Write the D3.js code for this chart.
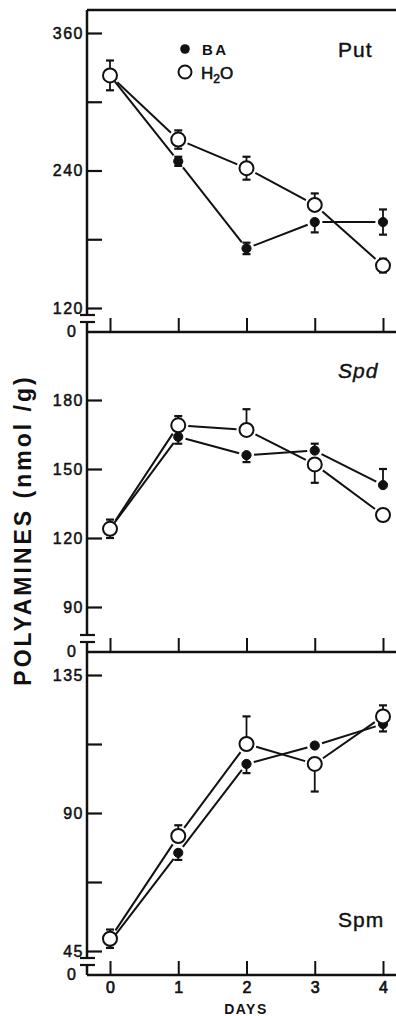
<!DOCTYPE html>
<html>
<head>
<meta charset="utf-8">
<script src="https://cdn.jsdelivr.net/npm/d3@7"></script>
<style>
  body { margin: 0; background: #fff; }
  svg { display: block; }
  text { font-family: "Liberation Sans", Arial, sans-serif; fill: #111; }
</style>
</head>
<body>
<svg id="chart" width="396" height="1016"></svg>
<script>
// data
const days = [0, 1, 2, 3, 4];

// putrescine
const putBA = [323, 248, 172, 195, 195];
const putH2O = [323, 267, 242, 210, 157];
const putBAErr = [[0, 0], [4, 4], [5, 5], [0, 9], [11, 11]];   // [up, down]
const putH2OErr = [[13, 13], [8, 8], [10, 10], [10, 0], [6, 6]];
const putTicks = [120, 180, 240, 300, 360];
const putLabels = [120, 240, 360];

// spermidine
const spdBA = [124, 164, 156, 158, 143];
const spdH2O = [124, 169, 167, 152, 130];
const spdBAErr = [[0, 0], [0, 3], [0, 3], [3, 0], [7, 0]];
const spdH2OErr = [[4, 4], [4, 0], [9, 0], [0, 8], [0, 0]];
const spdTicks = [90, 120, 150, 180];
const spdLabels = [90, 120, 150, 180];

// spermine
const spmBA = [48, 77, 106, 112, 119];
const spmH2O = [49, 82.5, 112.5, 106, 121.5];
const spmBAErr = [[0, 0], [0, 2.3], [0, 3], [0, 0], [0, 2.4]];
const spmH2OErr = [[3, 3], [3.5, 0], [9, 0], [0, 9], [3.6, 0]];
const spmTicks = [45, 67.5, 90, 112.5, 135];
const spmLabels = [45, 90, 135];

const svg = d3.select("#chart");
const axisX = 87, rightEdge = 396;
const ink = "#111";

const x = d3.scaleLinear().domain([0, 4]).range([110, 383]);

const panels = [
  { name: "Put", italic: false, ba: putBA, h2o: putH2O, baErr: putBAErr, h2oErr: putH2OErr,
    ticks: putTicks, labels: putLabels, domain: [120, 360], range: [308, 33], top: 10, bottom: 332, nameY: 57 },
  { name: "Spd", italic: true, ba: spdBA, h2o: spdH2O, baErr: spdBAErr, h2oErr: spdH2OErr,
    ticks: spdTicks, labels: spdLabels, domain: [90, 180], range: [607, 400], top: 332, bottom: 652, nameY: 378 },
  { name: "Spm", italic: false, ba: spmBA, h2o: spmH2O, baErr: spmBAErr, h2oErr: spmH2OErr,
    ticks: spmTicks, labels: spmLabels, domain: [45, 135], range: [951, 675], top: 652, bottom: 975, nameY: 927 }
];

// slightly heavier than regular, like the printed figure
function medium(sel, w) {
  sel.attr("stroke", ink).attr("stroke-width", w || 0.5);
}

// top frame line
svg.append("line")
  .attr("x1", axisX).attr("x2", rightEdge).attr("y1", 10).attr("y2", 10)
  .attr("stroke", ink).attr("stroke-width", 2.5);

panels.forEach((p, i) => {
  const y = d3.scaleLinear().domain(p.domain).range(p.range);
  const g = svg.append("g");

  // y axis line with break near bottom
  g.append("line")
    .attr("x1", axisX).attr("x2", axisX).attr("y1", p.top).attr("y2", p.bottom - 17)
    .attr("stroke", ink).attr("stroke-width", 2.5);
  g.append("line")
    .attr("x1", axisX).attr("x2", axisX).attr("y1", p.bottom - 9).attr("y2", p.bottom)
    .attr("stroke", ink).attr("stroke-width", 2.5);
  [p.bottom - 17, p.bottom - 10].forEach(by => {
    g.append("line")
      .attr("x1", axisX - 7).attr("x2", axisX + 8).attr("y1", by).attr("y2", by)
      .attr("stroke", ink).attr("stroke-width", 2.2);
  });
  g.append("text")
    .attr("x", 76).attr("y", p.bottom + 1).attr("text-anchor", "end")
    .attr("font-size", 16).attr("dominant-baseline", "middle")
    .call(medium)
    .text("0");

  // x axis line
  g.append("line")
    .attr("x1", axisX).attr("x2", rightEdge).attr("y1", p.bottom).attr("y2", p.bottom)
    .attr("stroke", ink).attr("stroke-width", 2.5);

  // y ticks (inward), labels left
  const yAxis = g.append("g")
    .attr("transform", `translate(${axisX},0)`)
    .call(d3.axisLeft(y).tickValues(p.ticks)
      .tickFormat(d => p.labels.includes(d) ? d : "")
      .tickSizeInner(-15).tickSizeOuter(0).tickPadding(3));
  yAxis.select(".domain").remove();
  yAxis.selectAll(".tick line").attr("stroke", ink).attr("stroke-width", 2.2);
  yAxis.selectAll(".tick text")
    .attr("font-size", 16).attr("letter-spacing", 1.5)
    .style("font-family", "'Liberation Sans', Arial, sans-serif").attr("fill", ink)
    .call(medium);

  // x ticks pointing up from the bottom line
  const xAxis = g.append("g")
    .attr("transform", `translate(0,${p.bottom})`)
    .call(d3.axisTop(x).tickValues(days).tickFormat("").tickSizeInner(14).tickSizeOuter(0));
  xAxis.select(".domain").remove();
  xAxis.selectAll(".tick line").attr("stroke", ink).attr("stroke-width", 2);

  // connecting lines, trimmed short of the markers
  const series = [
    { vals: p.ba, err: p.baErr, open: false, r: 4.6 },
    { vals: p.h2o, err: p.h2oErr, open: true, r: 7 }
  ];
  series.forEach(s => {
    const pts = days.map((d, k) => [x(d), y(s.vals[k])]);
    for (let k = 0; k < pts.length - 1; k++) {
      const [x0, y0] = pts[k], [x1, y1] = pts[k + 1];
      const len = Math.hypot(x1 - x0, y1 - y0);
      const gap = s.r + 3;
      const ux = (x1 - x0) / len, uy = (y1 - y0) / len;
      g.append("line")
        .attr("x1", x0 + ux * gap).attr("y1", y0 + uy * gap)
        .attr("x2", x1 - ux * gap).attr("y2", y1 - uy * gap)
        .attr("stroke", ink).attr("stroke-width", 2);
    }
  });

  // error bars
  series.forEach(s => {
    days.forEach((d, k) => {
      const [up, down] = s.err[k];
      const cx = x(d);
      [[up, 1], [down, -1]].forEach(([e, sign]) => {
        if (!e) return;
        const v = s.vals[k] + sign * e;
        g.append("line")
          .attr("x1", cx).attr("x2", cx).attr("y1", y(s.vals[k])).attr("y2", y(v))
          .attr("stroke", ink).attr("stroke-width", 1.8);
        g.append("line")
          .attr("x1", cx - 4).attr("x2", cx + 4).attr("y1", y(v)).attr("y2", y(v))
          .attr("stroke", ink).attr("stroke-width", 2.2);
      });
    });
  });

  // markers (open H2O drawn last so it sits over BA where they coincide)
  series.forEach(s => {
    g.selectAll(null)
      .data(days)
      .enter()
      .append("circle")
      .attr("cx", d => x(d))
      .attr("cy", (d, k) => y(s.vals[k]))
      .attr("r", s.r)
      .attr("fill", s.open ? "#fff" : ink)
      .attr("stroke", ink)
      .attr("stroke-width", s.open ? 2 : 1);
  });

  // panel name
  g.append("text")
    .attr("x", 338).attr("y", p.nameY)
    .attr("font-size", 21)
    .attr("font-style", p.italic ? "italic" : "normal")
    .attr("letter-spacing", 1)
    .call(medium, 0.4)
    .text(p.name);
});

// bottom day labels
const dayAxis = svg.append("g")
  .attr("transform", "translate(0,975)")
  .call(d3.axisBottom(x).tickValues(days).tickFormat(d3.format("d")).tickSize(0).tickPadding(7));
dayAxis.select(".domain").remove();
dayAxis.selectAll(".tick text")
  .attr("font-size", 16)
  .style("font-family", "'Liberation Sans', Arial, sans-serif").attr("fill", ink)
  .call(medium, 0.7);

svg.append("text")
  .attr("x", 246).attr("y", 1014).attr("text-anchor", "middle")
  .attr("font-size", 14).attr("font-weight", "bold").attr("letter-spacing", 1.5)
  .text("DAYS");

// legend
const legend = svg.append("g");
legend.append("circle").attr("cx", 185).attr("cy", 49).attr("r", 4.8).attr("fill", ink);
legend.append("text").attr("x", 202).attr("y", 55)
  .attr("font-size", 15).attr("font-weight", "bold").attr("letter-spacing", 2.5).text("BA");
legend.append("circle").attr("cx", 185).attr("cy", 72).attr("r", 6.5)
  .attr("fill", "#fff").attr("stroke", ink).attr("stroke-width", 2);
const h2o = legend.append("text").attr("x", 201).attr("y", 79).attr("font-size", 17).call(medium, 0.6);
h2o.append("tspan").text("H");
h2o.append("tspan").attr("font-size", 12).attr("dy", 4).text("2");
h2o.append("tspan").attr("dy", -4).text("O");

// y axis title
svg.append("text")
  .attr("transform", "translate(31,530) rotate(-90)")
  .attr("text-anchor", "middle")
  .attr("font-size", 23).attr("font-weight", "bold").attr("letter-spacing", 3)
  .text("POLYAMINES (nmol /g)");
</script>
</body>
</html>
